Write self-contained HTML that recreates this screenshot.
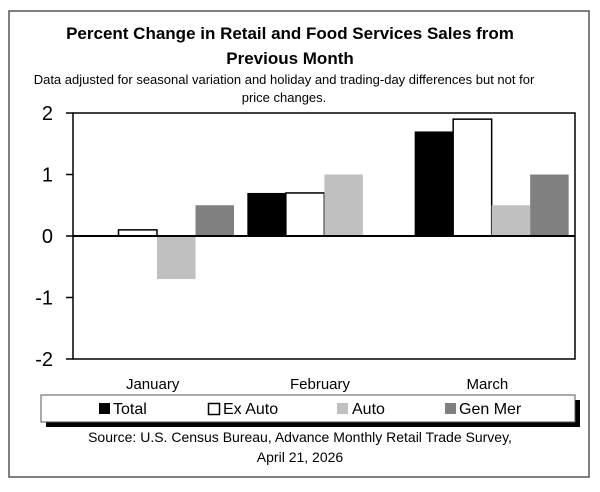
<!DOCTYPE html>
<html><head><meta charset="utf-8"><style>
body{margin:0;background:#fff;}
svg text{font-family:"Liberation Sans",sans-serif;}
</style></head><body>
<svg width="600" height="487" xmlns="http://www.w3.org/2000/svg">
<rect x="9" y="11" width="580" height="466" fill="#fff" stroke="#555" stroke-width="1.5"/>
<text x="290" y="39" text-anchor="middle" font-size="17" font-weight="bold">Percent Change in Retail and Food Services Sales from</text>
<text x="290" y="64" text-anchor="middle" font-size="17" font-weight="bold">Previous Month</text>
<text x="284" y="84" text-anchor="middle" font-size="13">Data adjusted for seasonal variation and holiday and trading-day differences but not for</text>
<text x="284" y="102" text-anchor="middle" font-size="13">price changes.</text>
<g id="plot"></g>
<g>
<rect x="46" y="400" width="534" height="27" fill="#000"/>
<rect x="41" y="395" width="534" height="27" fill="#fff" stroke="#555" stroke-width="1"/>
<rect x="99" y="403" width="11" height="11" fill="#000"/>
<text x="113" y="414" font-size="16">Total</text>
<rect x="208.5" y="403.5" width="11" height="11" fill="#fff" stroke="#000" stroke-width="1.5"/>
<text x="223" y="414" font-size="16">Ex Auto</text>
<rect x="337" y="403" width="11" height="11" fill="#c0c0c0"/>
<text x="352" y="414" font-size="16">Auto</text>
<rect x="445" y="403" width="11" height="11" fill="#808080"/>
<text x="459" y="414" font-size="16">Gen Mer</text>
</g>
<text x="300" y="442" text-anchor="middle" font-size="14">Source: U.S. Census Bureau, Advance Monthly Retail Trade Survey,</text>
<text x="300" y="462" text-anchor="middle" font-size="14">April 21, 2026</text>
</svg>
<script>
const categories=["January","February","March"];
const seriesNames=["Total","Ex Auto","Auto","Gen Mer"];
const total=[0,0.7,1.7];
const exAuto=[0.1,0.7,1.9];
const auto=[-0.7,1.0,0.5];
const genMer=[0.5,0,1.0];
const yTicks=[2,1,0,-1,-2];
const NS="http://www.w3.org/2000/svg";
const g=document.getElementById('plot');
const L=73,R=575,T=113,B=359,yMin=-2,yMax=2;
function y(v){return T+(yMax-v)/(yMax-yMin)*(B-T);}
const gw=(R-L)/categories.length;
function mk(tag,attrs){const e=document.createElementNS(NS,tag);for(const k in attrs)e.setAttribute(k,attrs[k]);g.appendChild(e);return e;}
const frame=mk('rect',{x:L,y:T,width:R-L,height:B-T,fill:'#fff',stroke:'#000','stroke-width':1.5});


const series=[total,exAuto,auto,genMer];
const fills=['#000','#fff','#c0c0c0','#808080'];
const keys=['total','ex-auto','auto','gen-mer'];
const bw=38.5;
categories.forEach((c,i)=>{
  series.forEach((s,j)=>{
    const v=s[i];if(v===0)return;
    const x=L+i*gw+7+j*bw;
    const y0=y(0),y1=y(v);
    const r=mk('rect',{x:x,y:Math.min(y0,y1),width:bw,height:Math.abs(y1-y0),fill:fills[j]});
    if(j===1){r.setAttribute('stroke','#000');r.setAttribute('stroke-width','1.5');}
    
    
  });
  const t=mk('text',{x:L+i*gw+gw/2-4,y:389,'text-anchor':'middle','font-size':15});
  t.textContent=c;
  
  
});
const zl=mk('line',{x1:L,x2:R,y1:y(0),y2:y(0),stroke:'#000','stroke-width':2});


yTicks.forEach(v=>{
  const tk=mk('line',{x1:66,x2:L,y1:y(v),y2:y(v),stroke:'#000','stroke-width':1.5});
  
  
  const t=mk('text',{x:53,y:y(v)+7,'text-anchor':'end','font-size':20});
  t.textContent=v<0?'-'+Math.abs(v):String(v);
  
  
});
</script>
</body></html>
